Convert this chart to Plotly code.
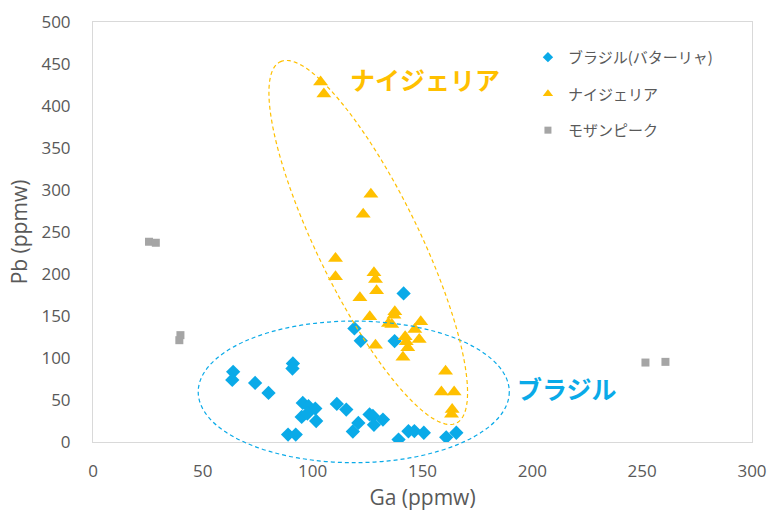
import numpy as np
import plotly.graph_objects as go

# ---------------- data ----------------
brazil_ga = [63.8, 63.4, 73.8, 79.9, 91.0, 90.8, 88.8, 92.3, 95.5, 98.1, 101.2, 95.0,
             97.6, 101.6, 111.0, 115.3, 118.3, 120.8, 125.9, 127.4, 127.9, 132.0,
             119.0, 121.9, 137.3, 141.4, 139.1, 143.6, 146.3, 150.6, 160.8, 165.4]
brazil_pb = [83.5, 73.9, 70.3, 58.4, 93.5, 87.5, 8.8, 8.8, 46.5, 42.6, 39.8, 29.8,
             33.9, 25.0, 45.3, 38.6, 12.5, 22.7, 32.8, 31.0, 20.5, 26.7,
             135.2, 120.4, 120.2, 176.9, 2.9, 12.8, 13.0, 11.0, 5.6, 11.0]

nigeria_ga = [103.6, 105.1, 126.5, 123.0, 110.4, 110.4, 127.9, 128.6, 129.1, 121.5,
              126.0, 137.4, 137.0, 134.5, 136.0, 128.6, 142.1, 142.6, 143.3, 141.1,
              149.2, 146.5, 148.5, 160.5, 158.6, 164.4, 163.5, 163.2]
nigeria_pb = [428.5, 414.2, 294.9, 271.1, 218.6, 196.7, 201.5, 193.6, 180.0, 171.7,
              149.0, 155.0, 151.0, 141.1, 140.0, 115.3, 125.2, 119.2, 112.1, 100.8,
              143.1, 134.0, 122.1, 84.3, 59.6, 59.6, 38.6, 33.0]

mozambique_ga = [25.5, 28.6, 39.3, 39.8, 251.5, 260.6]
mozambique_pb = [238.4, 237.2, 121.2, 127.2, 94.6, 95.4]

series_names = ["ブラジル(バターリャ)", "ナイジェリア", "モザンピーク"]
group_labels = ["ナイジェリア", "ブラジル"]

x_ticks = [0, 50, 100, 150, 200, 250, 300]
y_ticks = [0, 50, 100, 150, 200, 250, 300, 350, 400, 450, 500]

# ---------------- styles ----------------
BLUE = "#0AAAE8"
GOLD = "#FFC000"
GRAY = "#A5A5A5"
TEXT = "#595959"
FONT = "Open Sans, Noto Sans CJK JP, sans-serif"
JFONT = "Noto Sans CJK JP, sans-serif"

W, H = 767, 512
ML, MR, MT, MB = 93, 15, 22, 70
XMAX, YMAX = 300, 500
sx = (W - ML - MR) / XMAX   # px per Ga unit
sy = (H - MT - MB) / YMAX   # px per Pb unit

symbols = ["diamond", "triangle-up", "square"]
colors = [BLUE, GOLD, GRAY]
sizes = [11, 13, 8]
legend_sizes = [8, 9, 7]
xs = [brazil_ga, nigeria_ga, mozambique_ga]
ys = [brazil_pb, nigeria_pb, mozambique_pb]

fig = go.Figure()
for i in range(3):
    fig.add_trace(go.Scatter(x=xs[i], y=ys[i], mode="markers", name=series_names[i],
                             showlegend=False,
                             marker=dict(symbol=symbols[i], size=sizes[i], color=colors[i])))
# legend entries with small symbols (as in the reference)
for i in range(3):
    fig.add_trace(go.Scatter(x=[None], y=[None], mode="markers", name=series_names[i],
                             legendgroup=f"g{i}", showlegend=True,
                             marker=dict(symbol=symbols[i], size=legend_sizes[i], color=colors[i])))

# ---- dashed ellipses (paper refs so they are not clipped) ----
b_cx, b_cy, b_rx, b_ry = 118.7, 59.7, 70.8, 84.3
fig.add_shape(type="circle", xref="paper", yref="paper",
              x0=(b_cx - b_rx) / XMAX, x1=(b_cx + b_rx) / XMAX,
              y0=(b_cy - b_ry) / YMAX, y1=(b_cy + b_ry) / YMAX,
              line=dict(color=BLUE, width=1.2, dash="4px,3px"), layer="above")

n_cx, n_cy = 125.3, 237.5
n_a, n_b, n_ang = 201.0, 51.0, 26.0
th = np.deg2rad(n_ang)
t = np.linspace(0, 2 * np.pi, 181)
ux, uy = -np.sin(th), np.cos(th)
vx, vy = np.cos(th), np.sin(th)
px = n_a * np.cos(t) * ux + n_b * np.sin(t) * vx
py = n_a * np.cos(t) * uy + n_b * np.sin(t) * vy
ex = (n_cx + px / sx) / XMAX
ey = (n_cy + py / sy) / YMAX
path = "M " + " L ".join(f"{x:.5f},{y:.5f}" for x, y in zip(ex, ey)) + " Z"
fig.add_shape(type="path", xref="paper", yref="paper", path=path,
              line=dict(color=GOLD, width=1.2, dash="4px,3px"), layer="above")

# ---- group labels ----
fig.add_annotation(x=151.3, y=432.0, text=group_labels[0], showarrow=False,
                   font=dict(family=JFONT, size=25, color=GOLD, weight="bold"))
fig.add_annotation(x=215.8, y=64.0, text=group_labels[1], showarrow=False,
                   font=dict(family=JFONT, size=25, color=BLUE, weight="bold"))

axis_common = dict(showgrid=False, zeroline=False, showline=True, mirror=True,
                   linecolor="#D9D9D9", linewidth=1, ticks="",
                   tickfont=dict(family=FONT, size=17, color=TEXT))

fig.update_xaxes(range=[0, XMAX], tickvals=x_ticks, ticklabelstandoff=14,
                 title=dict(text="Ga (ppmw)", font=dict(family=FONT, size=21, color=TEXT),
                            standoff=8),
                 **axis_common)
fig.update_yaxes(range=[0, YMAX], tickvals=y_ticks, ticklabelstandoff=18,
                 title=dict(text="Pb (ppmw)", font=dict(family=FONT, size=21, color=TEXT),
                            standoff=8),
                 **axis_common)

fig.update_layout(
    width=W, height=H,
    margin=dict(l=ML, r=MR, t=MT, b=MB, autoexpand=False),
    plot_bgcolor="white", paper_bgcolor="white",
    showlegend=True,
    legend=dict(x=0.66, y=0.955, xanchor="left", yanchor="top",
                font=dict(family=JFONT, size=15, color=TEXT),
                tracegroupgap=14, bgcolor="rgba(0,0,0,0)"),
    hovermode=False,
)

fig.write_html("out.html", config={"displayModeBar": False, "staticPlot": True})
# remove the default page margin so the figure sits at the window's top-left
with open("out.html", encoding="utf-8") as f:
    html = f.read()
html = html.replace("<head>", "<head><style>html,body{margin:0;padding:0;overflow:hidden;}</style>", 1)
with open("out.html", "w", encoding="utf-8") as f:
    f.write(html)
